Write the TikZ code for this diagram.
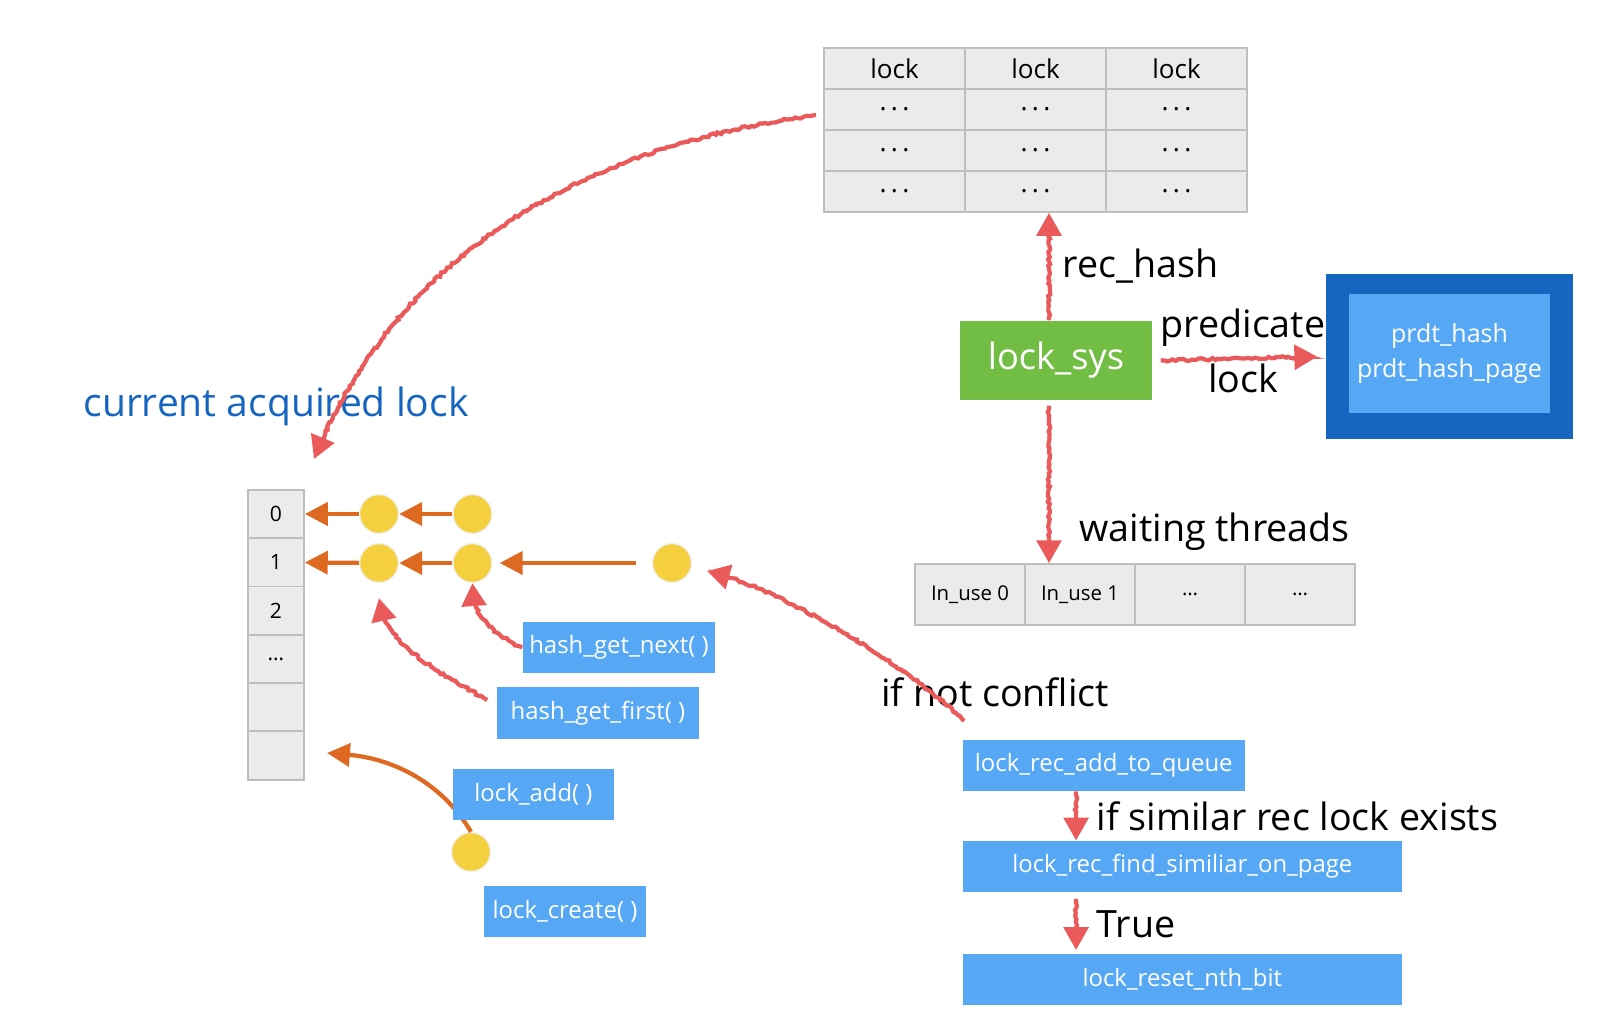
\documentclass[tikz,border=0pt]{standalone}
\usepackage{fontspec}
\setmainfont{Open Sans}
\usetikzlibrary{arrows.meta, positioning, calc, decorations.pathmorphing}
\definecolor{myred}{RGB}{235,90,90}
\definecolor{myorange}{RGB}{222,106,34}
\definecolor{myyellow}{RGB}{244,208,63}
\definecolor{mygreen}{RGB}{114,190,68}
\definecolor{myblue}{RGB}{86,168,245}
\definecolor{mydarkblue}{RGB}{20,102,190}
\definecolor{mytitle}{RGB}{21,101,192}
\definecolor{cellfill}{RGB}{235,235,235}
\definecolor{cellline}{RGB}{190,190,190}
\tikzset{
  cell/.style={rectangle, draw=cellline, fill=cellfill, inner sep=0pt, line width=0.5pt},
  fnbox/.style={rectangle, fill=myblue, text=white, inner sep=0pt,
    minimum height=0.51cm, font=\fontsize{6.8}{8}\selectfont},
  item/.style={circle, fill=myyellow, draw=black!6, minimum size=0.39cm, inner sep=0pt},
  biglabel/.style={font=\fontsize{10.7}{12}\selectfont, inner sep=1pt, text=black},
  redarrow/.style={-{Triangle[width=7pt,length=6.5pt]}, line width=1.2pt, color=myred,
    decorate, decoration={random steps, segment length=0.8pt, amplitude=0.35pt,
    pre length=1pt, post length=5pt}},
  orarrow/.style={-{Triangle[width=6.5pt,length=6.5pt]}, line width=1.2pt, color=myorange}
}

\begin{document}
\begin{tikzpicture}[x=0.01cm, y=-0.01cm]
  \pgfmathsetseed{7}
  \useasboundingbox (0,0) rectangle (1600,1021);

  % record lock hash
  \foreach \col in {0,1,2} {
    \node[cell, minimum width=1.41cm, minimum height=0.41cm, font=\fontsize{7.4}{8}\selectfont]
      (rh-0-\col) at ({894.5+141*\col},68.5) {lock};
    \foreach \row in {1,2,3}
      \node[cell, minimum width=1.41cm, minimum height=0.41cm, font=\fontsize{7.5}{8}\selectfont]
        (rh-\row-\col) at ({894.5+141*\col},{68.5+41*\row}) {.\,.\,.};
  }

  % lock system and predicate hash
  \node[rectangle, fill=mygreen, text=white, minimum width=1.92cm, minimum height=0.79cm,
    font=\fontsize{10.3}{12}\selectfont] (lsys) at (1056,360.5) {lock\_sys};
  \node[rectangle, fill=mydarkblue, minimum width=2.47cm, minimum height=1.65cm] (prdtout) at (1449.5,356.5) {};
  \node[fnbox, minimum width=2.01cm, minimum height=1.19cm, align=center,
    font=\fontsize{7.1}{9.7}\selectfont] (prdt) at (1449.5,353.5) {prdt\_hash\\prdt\_hash\_page};

  % waiting threads
  \foreach \txt [count=\i from 0] in {In\_use 0, In\_use 1, \dots, \dots}
    \node[cell, minimum width=1.1cm, minimum height=0.61cm, font=\fontsize{5.8}{7}\selectfont]
      (use\i) at ({970+110*\i},594.5) {\txt};

  % hash buckets
  \node[font=\fontsize{11.1}{13}\selectfont, text=mytitle] (title) at (276,406) {current acquired lock};
  \foreach \txt [count=\i from 0] in {0,1,2,\dots,{},{}}
    \node[cell, minimum width=0.56cm, minimum height=0.483cm, font=\fontsize{6}{7}\selectfont]
      (hb\i) at (276,{514+48.3*\i}) {\txt};

  \node[item] (c01) at (379,514) {};
  \node[item, right=0.53cm of c01] (c02) {};
  \node[item] (c11) at (379,563) {};
  \node[item, right=0.53cm of c11] (c12) {};
  \node[item, right=1.59cm of c12] (c13) {};
  \node[item] (cnew) at (471,852) {};

  \draw[orarrow] (c01) -- (hb0);
  \draw[orarrow] (c02) -- (c01);
  \draw[orarrow] (c11) -- (hb1);
  \draw[orarrow] (c12) -- (c11);
  \draw[orarrow, shorten <=0.16cm, shorten >=0.07cm] (c13) -- (c12);
  \coordinate (addtip) at (327,753);
  \draw[orarrow] (cnew.north) .. controls (439,778) and (387,758) .. (addtip);

  % functions
  \node[fnbox, minimum width=1.92cm] (next) at (619,647.5) {hash\_get\_next( )};
  \node[fnbox, minimum width=2.02cm] (first) at (598,713) {hash\_get\_first( )};
  \node[fnbox, minimum width=1.61cm] (add) at (533.5,794.5) {lock\_add( )};
  \node[fnbox, minimum width=1.62cm] (create) at (565,911.5) {lock\_create( )};

  \node[fnbox, minimum width=2.82cm, anchor=north west] (queue) at (962,739) {lock\_rec\_add\_to\_queue};
  \node[fnbox, minimum width=4.39cm, below=0.49cm of queue.south west, anchor=north west] (similar) {lock\_rec\_find\_similiar\_on\_page};
  \node[fnbox, minimum width=4.39cm, below=0.6cm of similar.south west, anchor=north west] (reset) {lock\_reset\_nth\_bit};
  \node[biglabel] (conflict) at (995,692) {if not conflict};

  % red connectors
  \coordinate (arcS) at (816,115);
  \coordinate (arcE) at (314,459);
  \draw[redarrow] (arcS) .. controls (560,150) and (390,270) .. (arcE);
  \coordinate (confS) at (964,721);
  \coordinate (confE) at (707,571);
  \draw[redarrow] (confS) .. controls (925,680) and (790,590) .. (confE);
  \draw[redarrow] (next.west) .. controls (490,633) and (470,612) .. (c12.south);
  \draw[redarrow] ([xshift=-0.09cm,yshift=0.13cm]first.west) .. controls (430,668) and (382,640) .. ([yshift=-0.15cm]c11.south);

  \draw[redarrow] ([xshift=-0.07cm]lsys.north) -- node[right=0.08cm, biglabel] {rec\_hash}
    ([xshift=-0.07cm]lsys.north |- rh-3-1.south);
  \draw[redarrow] ([xshift=-0.07cm,yshift=-0.05cm]lsys.south) -- node[pos=0.8, right=0.25cm, biglabel] {waiting threads}
    ([xshift=-0.07cm]lsys.south |- use1.north);
  \draw[redarrow, shorten >=0.08cm] ([xshift=0.08cm]lsys.east) -- node[above=0.06cm, biglabel] {predicate}
    node[below, biglabel] {lock} (prdtout.west);

  \draw[redarrow] ([xshift=1.14cm]queue.south west) -- node[right=0.15cm, biglabel] {if similar rec lock exists}
    ([xshift=1.14cm]similar.north west);
  \draw[redarrow] ([xshift=1.14cm,yshift=-0.06cm]similar.south west) -- node[right=0.15cm, biglabel] {True}
    ([xshift=1.14cm,yshift=0.03cm]reset.north west);
\end{tikzpicture}
\end{document}
